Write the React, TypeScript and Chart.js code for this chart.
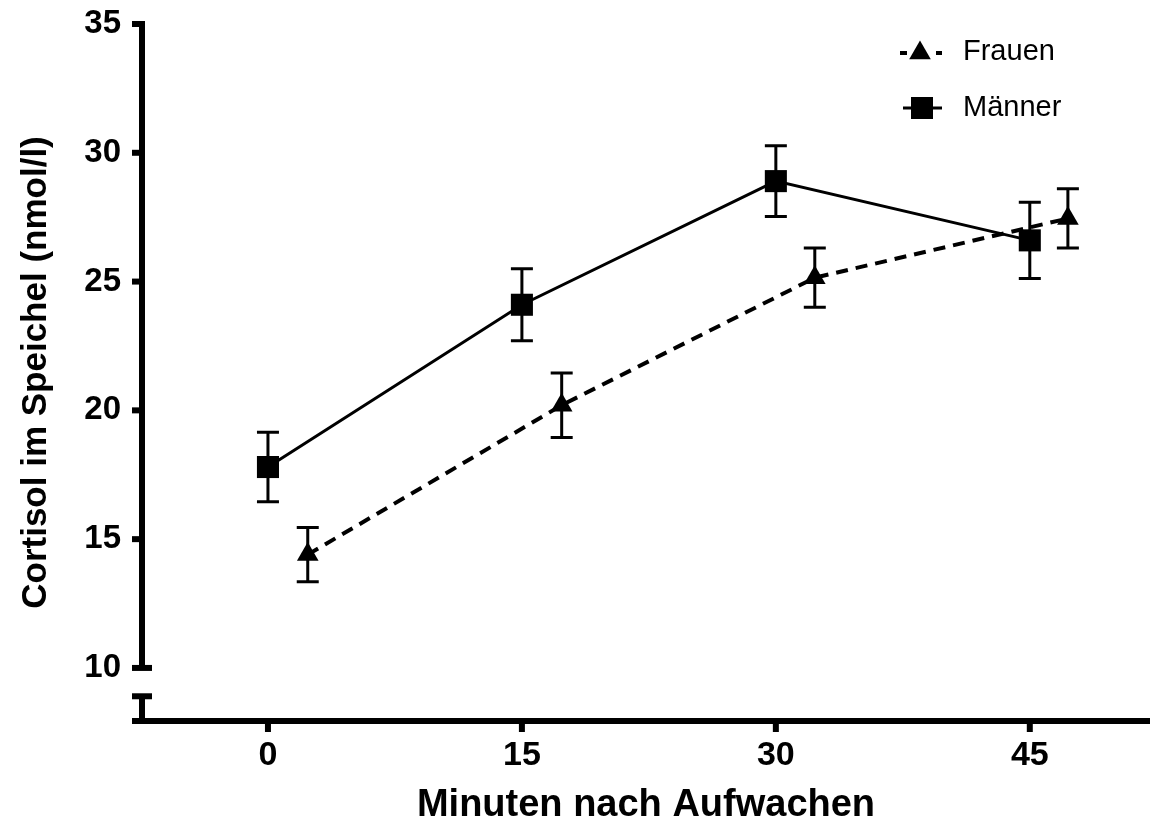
import React, { useEffect, useRef } from 'react';
import { Chart, registerables } from 'chart.js';

Chart.register(...registerables);

// ---- data ----
const xTickValues = [0, 15, 30, 45];
const yTickValues = [10, 15, 20, 25, 30, 35];

const maennerX = [0, 15, 30, 45];
const maennerMean = [17.8, 24.1, 28.9, 26.6];
const maennerErr = [1.35, 1.4, 1.37, 1.48];

const frauenX = [2.35, 17.35, 32.3, 47.25];
const frauenMean = [14.4, 20.2, 25.15, 27.45];
const frauenErr = [1.05, 1.25, 1.15, 1.15];

const seriesLabels = ['Frauen', 'Männer'];
const xTitle = 'Minuten nach Aufwachen';
const yTitle = 'Cortisol im Speichel (nmol/l)';

const xMin = -7.44;
const xMax = 52.1;
const yMin = 7.94;
const yMax = 35;
const yBreakTop = 10;
const yBreakBottom = 8.9;

const FONT = '"Liberation Sans", Arial, Helvetica, sans-serif';

const axesPlugin = {
  id: 'brokenAxes',
  beforeDatasetsDraw(chart: any) {
    const ctx = chart.ctx;
    const { left, right, bottom } = chart.chartArea;
    const ys = chart.scales.y;
    const xs = chart.scales.x;
    ctx.save();
    ctx.strokeStyle = '#000';
    ctx.lineWidth = 6;
    ctx.lineCap = 'butt';
    ctx.beginPath();
    ctx.moveTo(left, ys.getPixelForValue(yMax) - 3);
    ctx.lineTo(left, ys.getPixelForValue(yBreakTop));
    ctx.stroke();
    ctx.beginPath();
    ctx.moveTo(left, ys.getPixelForValue(yBreakBottom));
    ctx.lineTo(left, bottom);
    ctx.stroke();
    yTickValues.forEach((v) => {
      const py = ys.getPixelForValue(v);
      ctx.beginPath();
      ctx.moveTo(left - 10, py);
      ctx.lineTo(v === yBreakTop ? left + 10 : left, py);
      ctx.stroke();
    });
    const pb = ys.getPixelForValue(yBreakBottom);
    ctx.beginPath();
    ctx.moveTo(left - 10, pb);
    ctx.lineTo(left + 10, pb);
    ctx.stroke();
    ctx.beginPath();
    ctx.moveTo(left - 10, bottom);
    ctx.lineTo(right, bottom);
    ctx.stroke();
    xTickValues.forEach((v) => {
      const px = xs.getPixelForValue(v);
      ctx.beginPath();
      ctx.moveTo(px, bottom);
      ctx.lineTo(px, bottom + 11);
      ctx.stroke();
    });
    ctx.restore();
  },
};

const errorBarPlugin = {
  id: 'errorBars',
  beforeDatasetsDraw(chart: any) {
    const ctx = chart.ctx;
    const ys = chart.scales.y;
    ctx.save();
    ctx.strokeStyle = '#000';
    ctx.lineWidth = 3;
    chart.data.datasets.forEach((ds: any, i: number) => {
      const meta = chart.getDatasetMeta(i);
      meta.data.forEach((pt: any, j: number) => {
        const v = ds.data[j].y;
        const e = ds.errors[j];
        const yTop = ys.getPixelForValue(v + e);
        const yBot = ys.getPixelForValue(v - e);
        const x = pt.x;
        ctx.beginPath();
        ctx.moveTo(x, yTop);
        ctx.lineTo(x, yBot);
        ctx.moveTo(x - 11, yTop);
        ctx.lineTo(x + 11, yTop);
        ctx.moveTo(x - 11, yBot);
        ctx.lineTo(x + 11, yBot);
        ctx.stroke();
      });
    });
    ctx.restore();
  },
};

const legendPlugin = {
  id: 'customLegend',
  afterDraw(chart: any) {
    const ctx = chart.ctx;
    const { right, top } = chart.chartArea;
    ctx.save();
    ctx.fillStyle = '#000';
    ctx.strokeStyle = '#000';
    const y1 = top + 29;
    const lx = right - 250;
    ctx.lineWidth = 4;
    ctx.setLineDash([7, 29]);
    ctx.beginPath();
    ctx.moveTo(lx, y1);
    ctx.lineTo(lx + 42, y1);
    ctx.stroke();
    ctx.setLineDash([]);
    const r = 12.5;
    const cx1 = lx + 20;
    ctx.beginPath();
    ctx.moveTo(cx1, y1 - r);
    ctx.lineTo(cx1 + r * 0.866, y1 + r / 2);
    ctx.lineTo(cx1 - r * 0.866, y1 + r / 2);
    ctx.closePath();
    ctx.fill();
    const y2 = top + 84;
    ctx.lineWidth = 3;
    ctx.beginPath();
    ctx.moveTo(lx + 3, y2);
    ctx.lineTo(lx + 42, y2);
    ctx.stroke();
    ctx.fillRect(lx + 22 - 11, y2 - 11, 22, 22);
    ctx.font = `29px ${FONT}`;
    ctx.textBaseline = 'middle';
    ctx.textAlign = 'left';
    ctx.fillText(seriesLabels[0], right - 187, y1 - 1);
    ctx.fillText(seriesLabels[1], right - 187, y2);
    ctx.restore();
  },
};

export default function App() {
  const canvasRef = useRef<HTMLCanvasElement | null>(null);

  useEffect(() => {
    if (!canvasRef.current) return;
    const chart = new Chart(canvasRef.current, {
      type: 'line',
      data: {
        datasets: [
          {
            label: seriesLabels[0],
            data: frauenX.map((x, i) => ({ x, y: frauenMean[i] })),
            errors: frauenErr,
            borderColor: '#000',
            backgroundColor: '#000',
            borderWidth: 4,
            borderDash: [12, 8],
            pointStyle: 'triangle',
            pointRadius: 12.5,
            pointBorderWidth: 0,
            pointBackgroundColor: '#000',
            tension: 0,
          } as any,
          {
            label: seriesLabels[1],
            data: maennerX.map((x, i) => ({ x, y: maennerMean[i] })),
            errors: maennerErr,
            borderColor: '#000',
            backgroundColor: '#000',
            borderWidth: 3,
            pointStyle: 'rect',
            pointRadius: 15.6,
            pointBorderWidth: 0,
            pointBackgroundColor: '#000',
            tension: 0,
          } as any,
        ],
      },
      options: {
        responsive: false,
        animation: false,
        devicePixelRatio: 1,
        layout: { autoPadding: false, padding: { top: 24, left: 0, right: 0, bottom: 0 } },
        plugins: {
          legend: { display: false },
          tooltip: { enabled: false },
        },
        scales: {
          x: {
            type: 'linear',
            min: xMin,
            max: xMax,
            afterBuildTicks: (s: any) => {
              s.ticks = xTickValues.map((v) => ({ value: v }));
            },
            afterFit: (s: any) => {
              s.height = 104;
              s.paddingLeft = 0;
              s.paddingRight = 0;
            },
            grid: { display: false, drawTicks: false },
            border: { display: false },
            ticks: {
              color: '#000',
              padding: 14,
              autoSkip: false,
              maxRotation: 0,
              font: { family: FONT, size: 34, weight: 'bold' },
            },
            title: {
              display: true,
              text: xTitle,
              color: '#000',
              padding: 0,
              font: { family: FONT, size: 38, weight: 'bold', lineHeight: 1 },
            },
          },
          y: {
            type: 'linear',
            min: yMin,
            max: yMax,
            afterBuildTicks: (s: any) => {
              s.ticks = yTickValues.map((v) => ({ value: v }));
            },
            afterFit: (s: any) => {
              s.width = 142;
              s.paddingTop = 0;
              s.paddingBottom = 0;
            },
            grid: { display: false, drawTicks: false },
            border: { display: false },
            ticks: {
              color: '#000',
              padding: 21,
              autoSkip: false,
              font: { family: FONT, size: 33, weight: 'bold' },
            },
            title: {
              display: true,
              text: yTitle,
              color: '#000',
              padding: { top: 19, bottom: 0 },
              font: { family: FONT, size: 35, weight: 'bold', lineHeight: 1 },
            },
          },
        },
      } as any,
      plugins: [axesPlugin, errorBarPlugin, legendPlugin],
    });
    return () => chart.destroy();
  }, []);

  return (
    <div style={{ position: 'absolute', left: 0, top: 0, width: 1150, height: 825, background: '#fff' }}>
      <canvas ref={canvasRef} width={1150} height={825} style={{ display: 'block' }} />
    </div>
  );
}
